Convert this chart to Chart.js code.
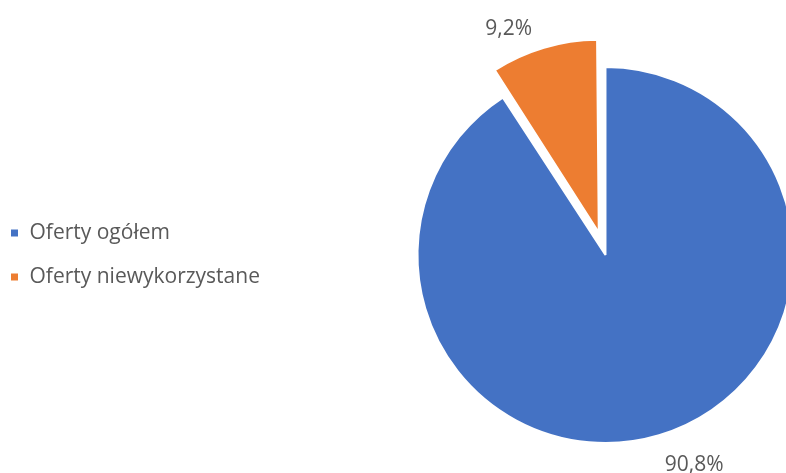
<!DOCTYPE html>
<html>
<head>
<meta charset="utf-8">
<script src="https://cdn.jsdelivr.net/npm/chart.js@4"></script>
<style>
  html, body { margin: 0; padding: 0; background: #fff; overflow: hidden; }
</style>
</head>
<body>
<!-- canvas is wider than the window on purpose: the pie is cut by the right edge in the original -->
<canvas id="myChart" width="941" height="473"></canvas>
<script>
// data
const labels      = ['Oferty ogółem', 'Oferty niewykorzystane'];
const shares      = [90.8, 9.2];
const sliceColors = ['#4472C4', '#ED7D31'];
const explode     = [0, 94];          // Chart.js offset, only the small slice is pulled out

const pctLabels = shares.map(v => v.toFixed(1).replace('.', ',') + '%');   // Polish decimal comma

const pieRadius = 188;
const textColor = '#595959';
const fontFamily = '"Open Sans", "DejaVu Sans", sans-serif';

// draws the "9,2%" / "90,8%" labels just outside each slice
const outsideLabels = {
    id: 'outsideLabels',
    beforeDatasetsDraw(chart) {
        // excel draws the pulled out slice a little smaller
        chart.getDatasetMeta(0).data.forEach((arc, i) => {
            if (explode[i] > 0) arc.outerRadius = pieRadius - 6;
        });
    },
    afterDatasetsDraw(chart) {
        const ctx = chart.ctx;
        const meta = chart.getDatasetMeta(0);
        ctx.save();
        ctx.font = '21px ' + fontFamily;
        ctx.fillStyle = textColor;
        meta.data.forEach((arc, i) => {
            const mid = (arc.startAngle + arc.endAngle) / 2;
            const dx = Math.cos(mid), dy = Math.sin(mid);
            // same shift the arc element uses for its offset
            const off = explode[i] / 4;
            const fix = 1 - Math.sin(Math.min(Math.PI, arc.circumference));
            const r = off + off * fix + arc.outerRadius + (dy >= 0 ? 20 : 13);
            ctx.textAlign = dx >= 0 ? 'left' : 'right';
            ctx.textBaseline = dy >= 0 ? 'top' : 'alphabetic';
            ctx.fillText(pctLabels[i], arc.x + dx * r - (dx < 0 ? 8 : 0), arc.y + dy * r);
        });
        ctx.restore();
    }
};

let myChart = document.getElementById('myChart').getContext('2d');

let pieChart = new Chart(myChart, {
    type: 'pie',
    data: {
        labels: labels,
        datasets: [{
            data: shares,
            backgroundColor: sliceColors,
            borderColor: '#ffffff',
            borderWidth: 2,
            offset: explode,
            radius: pieRadius
        }]
    },
    options: {
        responsive: false,
        animation: false,
        layout: {
            padding: { left: -13, right: 0, top: 37, bottom: 0 }
        },
        plugins: {
            legend: {
                position: 'left',
                labels: {
                    boxWidth: 9,
                    boxHeight: 9,
                    padding: 23,
                    color: textColor,
                    font: { size: 21, family: fontFamily }
                }
            },
            tooltip: { enabled: false }
        }
    },
    plugins: [outsideLabels]
});
</script>
</body>
</html>
